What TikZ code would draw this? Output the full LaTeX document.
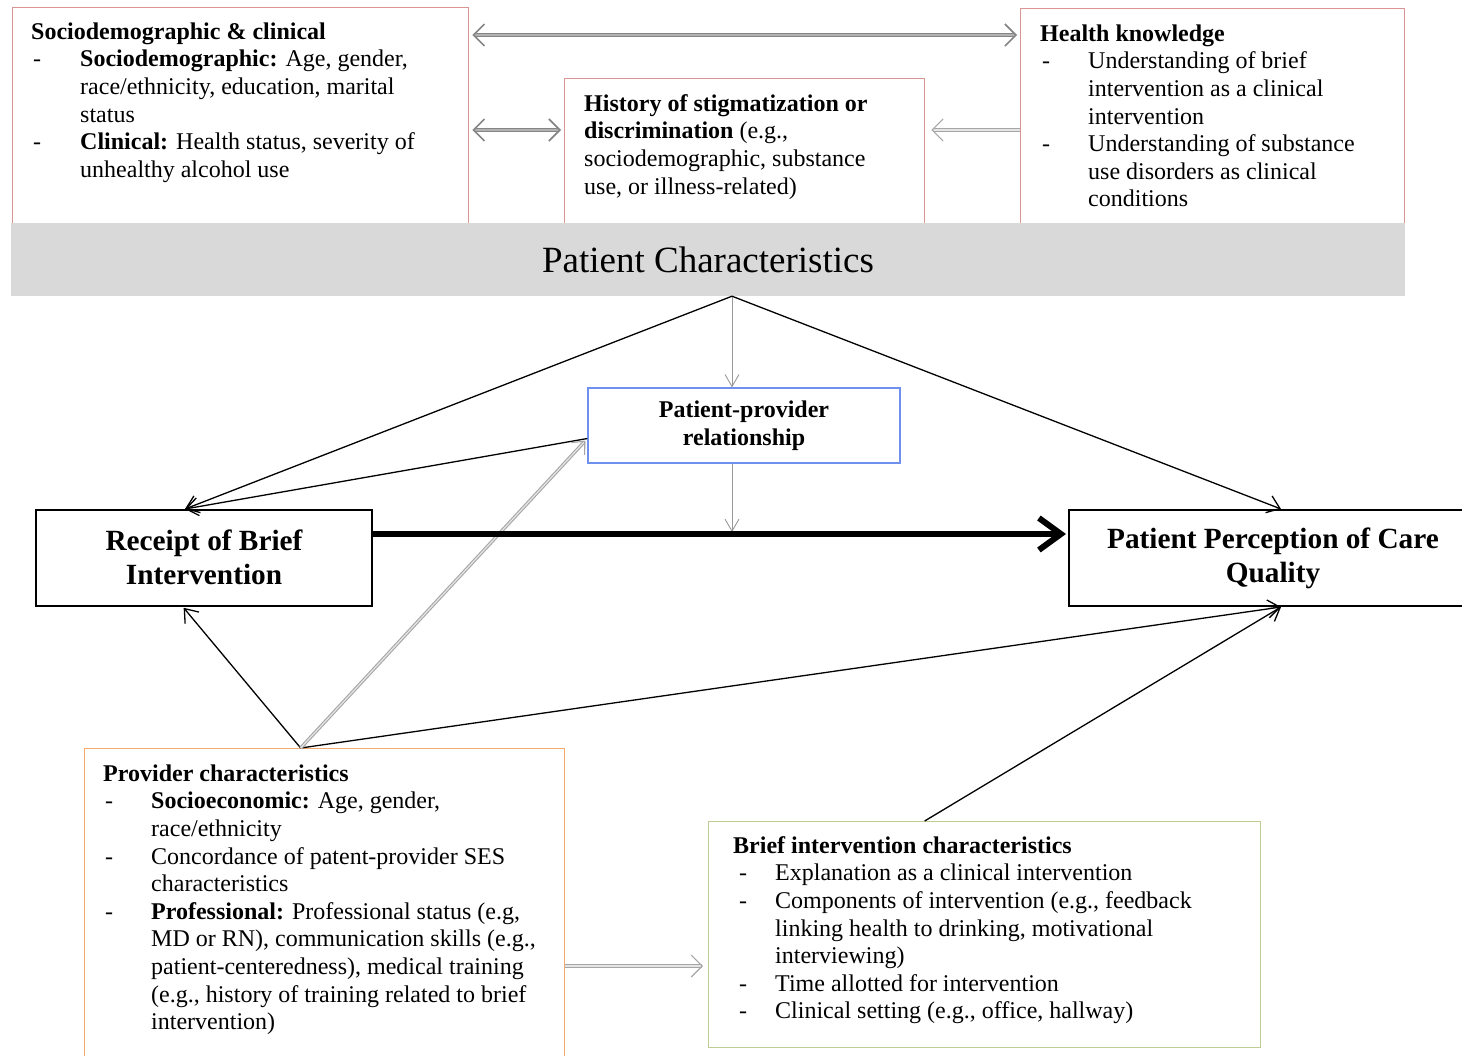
\documentclass[tikz,border=0pt]{standalone}
\usepackage{fontspec}
\setmainfont{Liberation Serif}
\usetikzlibrary{arrows.meta}
\definecolor{redb}{RGB}{217,149,148}
\definecolor{blueb}{RGB}{110,145,240}
\definecolor{orangeb}{RGB}{244,170,110}
\definecolor{greenb}{RGB}{190,205,145}
\definecolor{bandgray}{RGB}{217,217,217}
\newcommand{\mydash}[2]{\makebox[#2][l]{\hspace*{#1}-}}
\newcommand{\myind}[1]{\hspace*{#1}}
\tikzset{gtip/.tip={Straight Barb[length=11pt,width=22pt]}}
\begin{document}
\begin{tikzpicture}[x=1pt,y=-1pt,
  frame/.style={inner sep=0pt, anchor=north west, line width=1.3pt},
  txt/.style={anchor=north west, inner sep=0pt, align=left, font=\fontsize{24}{27.6}\selectfont},
  bigbox/.style={draw=black, line width=2pt, inner sep=0pt, minimum width=336, minimum height=96, align=center, font=\fontsize{29.3}{33.7}\selectfont\bfseries},
  blk/.style={black, line width=1.3pt, -{Straight Barb[length=12pt,width=18pt]}},
  gdouble/.style={draw=gray!95, double=gray!60, line width=1.6pt, double distance=1.6pt},
  glight/.style={draw=gray!70, double=gray!20, line width=1.1pt, double distance=1.2pt},
  gthin/.style={gray!80, line width=0.9pt, -{Straight Barb[length=12pt,width=14pt]}}
]
\useasboundingbox (0,0) rectangle (1462,1055);
\fill[white] (0,0) rectangle (1462,1055);

% top boxes
\node[frame, draw=redb, minimum width=456, minimum height=240] (socio) at (12,7) {};
\node[frame, draw=redb, minimum width=360, minimum height=170] (hist) at (564,78) {};
\node[frame, draw=redb, minimum width=384, minimum height=240] (health) at (1020,8) {};

\node[txt] (sociotxt) at (31,19) {\rule{0pt}{20pt}\textbf{Sociodemographic \& clinical}\\
\mydash{2pt}{49pt}\textbf{Sociodemographic:} Age, gender,\\
\myind{49pt}race/ethnicity, education, marital\\
\myind{49pt}status\\
\mydash{2pt}{49pt}\textbf{Clinical:} Health status, severity of\\
\myind{49pt}unhealthy alcohol use};

\node[txt] (histtxt) at (584,91) {\rule{0pt}{20pt}\textbf{History of stigmatization or}\\
\textbf{discrimination} (e.g.,\\
sociodemographic, substance\\
use, or illness-related)};

\node[txt] (healthtxt) at (1040,21) {\rule{0pt}{20pt}\textbf{Health knowledge}\\
\mydash{2pt}{48pt}Understanding of brief\\
\myind{48pt}intervention as a clinical\\
\myind{48pt}intervention\\
\mydash{2pt}{48pt}Understanding of substance\\
\myind{48pt}use disorders as clinical\\
\myind{48pt}conditions};

% band
\node[fill=bandgray, inner sep=0pt, minimum width=1394, minimum height=73, font=\fontsize{37}{42}\selectfont] (band) at (708,259.5) {Patient Characteristics};
\coordinate (apex) at ([xshift=24]band.south);

% middle boxes
\node[draw=blueb, line width=1.2pt, inner sep=0pt, minimum width=312, minimum height=75, align=center, font=\fontsize{24}{27.6}\selectfont\bfseries] (ppr) at (744,425.5) {Patient-provider\\relationship};
\node[bigbox, text depth=2pt] (receipt) at (204,558) {Receipt of Brief\\Intervention};
\node[bigbox, minimum width=408, anchor=west] (perc) at (1068,558) {Patient Perception of Care\\Quality};

% bottom boxes
\node[frame, draw=orangeb, minimum width=480, minimum height=330] (prov) at (84,748) {};
\node[frame, draw=greenb, minimum width=552, minimum height=226] (brief) at (708,821) {};

\node[txt] (provtxt) at (103,761) {\rule{0pt}{20pt}\textbf{Provider characteristics}\\
\mydash{2pt}{48pt}\textbf{Socioeconomic:} Age, gender,\\
\myind{48pt}race/ethnicity\\
\mydash{2pt}{48pt}Concordance of patent-provider SES\\
\myind{48pt}characteristics\\
\mydash{2pt}{48pt}\textbf{Professional:} Professional status (e.g,\\
\myind{48pt}MD or RN), communication skills (e.g.,\\
\myind{48pt}patient-centeredness), medical training\\
\myind{48pt}(e.g., history of training related to brief\\
\myind{48pt}intervention)};

\node[txt] (brieftxt) at (733,833) {\rule{0pt}{20pt}\textbf{Brief intervention characteristics}\\
\mydash{6pt}{42pt}Explanation as a clinical intervention\\
\mydash{6pt}{42pt}Components of intervention (e.g., feedback\\
\myind{42pt}linking health to drinking, motivational\\
\myind{42pt}interviewing)\\
\mydash{6pt}{42pt}Time allotted for intervention\\
\mydash{6pt}{42pt}Clinical setting (e.g., office, hallway)};

% connector points
\coordinate (rtop) at ([xshift=-19]receipt.north);
\coordinate (rbot) at ([xshift=-21]receipt.south);
\coordinate (ptop) at ([xshift=8]perc.north);
\coordinate (pbot) at ([xshift=8]perc.south);
\coordinate (pprL) at ([yshift=-13]ppr.west);
\coordinate (pprT) at ([xshift=-12]ppr.north);
\coordinate (pprB) at ([xshift=-12]ppr.south);
\coordinate (provT) at ([xshift=-24]prov.north);
\coordinate (briefT) at ([xshift=-60]brief.north);
\coordinate (mainS) at ([yshift=24]receipt.east);
\coordinate (mainE) at ([yshift=24]perc.west);
\coordinate (mainmid) at (pprB |- mainS);

% gray double arrows at top
\draw[gdouble, {gtip}-{gtip}, shorten <=3pt, shorten >=3pt] (socio.east |- 0,35) -- (health.west |- 0,35);
\draw[gdouble, {gtip}-{gtip}, shorten <=3pt, shorten >=3pt] (socio.east |- 0,130) -- (hist.west |- 0,130);
\draw[glight, -{gtip}, shorten >=6pt] (health.west |- 0,130) -- (hist.east |- 0,130);

% vertical gray arrows
\draw[gthin] (apex) -- (pprT);
\draw[gthin, shorten >=2pt] (pprB) -- (mainmid);

% black connectors
\draw[blk] (apex) -- (rtop);
\draw[blk] (apex) -- (ptop);
\draw[blk] (pprL) -- (rtop);
\draw[blk, shorten >=1pt] (provT) -- (rbot);
\draw[blk] (provT) -- (pbot);
\draw[blk] (briefT) -- (pbot);

% gray double from provider
\draw[glight, -{Straight Barb[length=10pt,width=18pt]}, shorten >=3pt] (provT) -- (pprL);
\draw[glight, -{gtip}, shorten >=5pt] (prov.east |- 0,966) -- (brief.west |- 0,966);

% main arrow
\draw[black, line width=6pt, -{Straight Barb[length=22pt,width=32pt]}, shorten >=2pt] (mainS) -- (mainE);
\end{tikzpicture}
\end{document}
